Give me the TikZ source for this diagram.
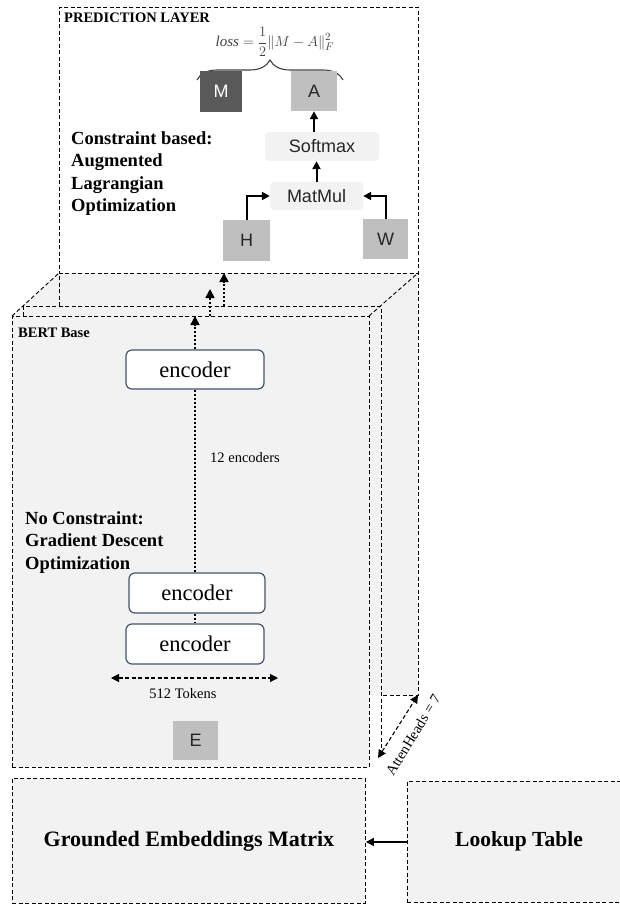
\documentclass[tikz,border=0pt]{standalone}
\usepackage{fontspec}
\setmainfont{Liberation Serif}
\newfontfamily\boxsans{Liberation Sans}
\usetikzlibrary{arrows.meta,decorations.pathreplacing,calc}
\definecolor{boxgray}{HTML}{F2F2F2}
\definecolor{midgray}{HTML}{BFBFBF}
\definecolor{deepgray}{HTML}{595959}
\definecolor{encborder}{HTML}{44546A}
\definecolor{txtgray}{HTML}{404040}
\definecolor{inkdark}{HTML}{262626}
\begin{document}
\begin{tikzpicture}[x=1pt,y=-1pt,
  dashline/.style={draw=black, line width=0.9pt, dash pattern=on 4pt off 2.5pt},
  dotarrow/.style={draw=black, line width=1.7pt, dash pattern=on 2pt off 2pt, -{Triangle[length=9pt,width=9pt]}},
  dotline/.style={draw=black, line width=1.7pt, dash pattern=on 2pt off 2pt},
  solidarrow/.style={draw=black, line width=2pt, -{Triangle[length=8pt,width=8pt]}},
  twoheads/.style={{Triangle[length=8pt,width=8pt]}-{Triangle[length=8pt,width=8pt]}},
  matbox/.style={rectangle, inner sep=0pt, text=inkdark, font=\boxsans\fontsize{18}{20}\selectfont},
  opbox/.style={rectangle, rounded corners=4pt, fill=boxgray, inner sep=0pt, text=inkdark, font=\boxsans\fontsize{18}{20}\selectfont},
  encbox/.style={rectangle, rounded corners=6pt, draw=encborder, line width=1.2pt, fill=white, inner sep=0pt, minimum width=138pt, minimum height=39pt, font=\fontsize{22.5}{25}\selectfont},
  boldlabel/.style={inner sep=0pt, anchor=west, align=left, font=\bfseries\fontsize{18.5}{22.3}\selectfont},
  smalllabel/.style={inner sep=0pt, font=\fontsize{14.5}{17}\selectfont},
  headlabel/.style={inner sep=0pt, anchor=west, font=\bfseries\fontsize{14.5}{17}\selectfont},
  bigbox/.style={dashline, fill=boxgray, rectangle, inner sep=0pt, anchor=north west}
]
\useasboundingbox (0,0) rectangle (620,904);

% ---------- prediction layer frame ----------
\node[dashline, fill=white, rectangle, inner sep=0pt, anchor=north west,
      minimum width=359pt, minimum height=266pt] (pred) at (59,7) {};
\node[headlabel] (predtitle) at (64,18) {PREDICTION LAYER};

% ---------- 3D BERT block ----------
\fill[boxgray] (59,273) rectangle (418,695);
\fill[boxgray] (12,316) -- (59,273) -- (418,273) -- (369,316) -- cycle;
\draw[dashline] (59,306) -- (59,273) -- (418,273) -- (418,695) -- (381,695);
\draw[dashline] (23,316) -- (23,306) -- (381,306) -- (381,757);
\node[bigbox, minimum width=357pt, minimum height=451pt] (bert) at (12,316) {};
\draw[dashline] (12,316) -- (59,273);
\draw[dashline] (369,316) -- (418,273);
\node[headlabel] (berttitle) at (18,333) {BERT Base};

% ---------- encoders ----------
\node[encbox] (enc1) at (195,369.5) {encoder};
\node[encbox, minimum width=136pt, minimum height=40pt] (enc2) at (197,593) {encoder};
\node[encbox, minimum height=40pt] (enc3) at (195,644) {encoder};
\draw[dotline] (enc1.south) -- (enc1.south |- enc2.north);
\draw[dotline] (enc3.north |- enc2.south) -- (enc3.north);
\node[smalllabel, anchor=west] (twelve) at (210,458) {12 encoders};

% arrows leaving the block
\coordinate (a1e) at (enc1.north |- bert.north);
\draw[dotarrow] (enc1.north) -- (a1e);
\coordinate (a2s) at (210,316);
\coordinate (a2e) at (210,289);
\draw[dotarrow] (a2s) -- (a2e);
\coordinate (a3s) at (224,306);
\coordinate (a3e) at (224,273);
\draw[dotarrow] (a3s) -- (a3e);

\node[boldlabel] (nocon) at (25,542.5) {No Constraint:\\Gradient Descent\\Optimization};

% tokens
\coordinate (tokL) at (111,678);
\coordinate (tokR) at (278,678);
\draw[dashline, twoheads, line width=1.1pt] (tokL) -- (tokR);
\node[smalllabel] (toklabel) at (183,694) {512 Tokens};

\node[matbox, fill=midgray, minimum width=45pt, minimum height=39pt] (E) at (195.5,740.5) {E};

% attention heads
\coordinate (ahTop) at (418,695);
\coordinate (ahBot) at (378,758);
\draw[dashline, twoheads, line width=1.1pt] (ahBot) -- (ahTop);
\node[smalllabel, rotate=58.5] (ahlabel) at (413,735) {AttenHeads = 7};

% ---------- prediction layer content ----------
\node[text=txtgray, inner sep=0pt, font=\fontsize{15}{18}\selectfont] (loss) at (275,42)
  {$\displaystyle \mathit{loss}=\frac{1}{2}\|M-A\|_F^2$};
\draw[decorate, decoration={brace, amplitude=20pt}, line width=1.1pt, txtgray] (197,80) -- (343,80);

\node[matbox, fill=deepgray, text=white, minimum width=42pt, minimum height=41pt] (M) at (221,91.5) {M};
\node[matbox, fill=midgray, minimum width=46pt, minimum height=40pt] (A) at (314,91) {A};
\node[opbox, minimum width=114pt, minimum height=29pt] (soft) at (322,146.5) {Softmax};
\node[opbox, minimum width=93pt, minimum height=28pt] (mm) at (316.5,196) {MatMul};
\node[matbox, fill=midgray, minimum width=47pt, minimum height=41pt] (H) at (246.5,240.5) {H};
\node[matbox, fill=midgray, minimum width=45pt, minimum height=40pt] (W) at (385.5,239) {W};

\draw[solidarrow] (A.south |- soft.north) -- (A.south);
\draw[solidarrow] (mm.north) -- (mm.north |- soft.south);
\draw[solidarrow] (H.north) |- (mm.west);
\draw[solidarrow] (W.north) |- (mm.east);

\node[boldlabel] (con) at (71,173.5) {Constraint based:\\Augmented\\Lagrangian\\Optimization};

% ---------- bottom boxes ----------
\node[bigbox, minimum width=353pt, minimum height=125pt] (ground) at (12,778) {};
\node[inner sep=0pt, font=\bfseries\fontsize{22}{26}\selectfont] (groundtext) at (ground.center) {Grounded Embeddings Matrix};
\node[bigbox, minimum width=222pt, minimum height=121pt] (lookup) at (407,781) {};
\node[inner sep=0pt, font=\bfseries\fontsize{21.5}{25}\selectfont] (lookuptext) at (519,841.5) {Lookup Table};
\draw[solidarrow, line width=1.6pt] (lookup.west) -- (lookup.west -| ground.east);

\end{tikzpicture}
\end{document}
